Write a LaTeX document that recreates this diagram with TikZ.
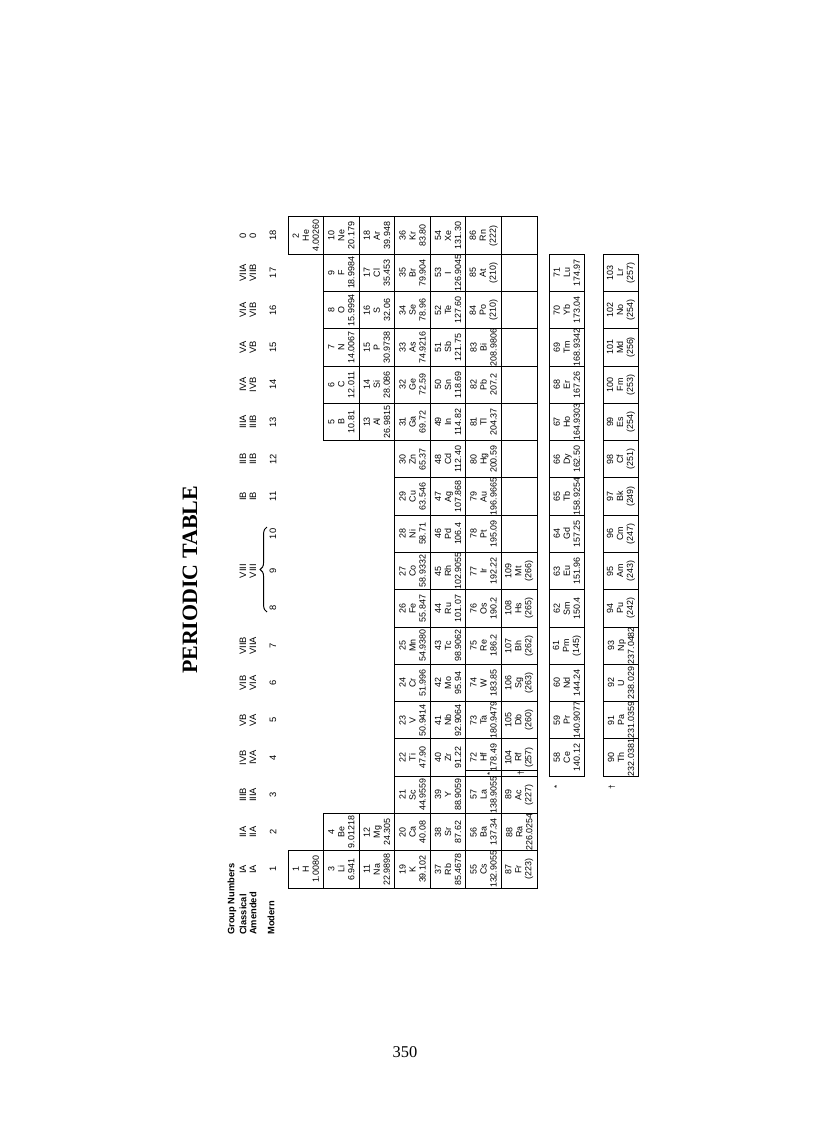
\documentclass[tikz,border=0pt]{standalone}
\usepackage{fontspec}
\setsansfont{Liberation Sans}
\setmainfont{Liberation Serif}
\usetikzlibrary{decorations.pathreplacing}
\tikzset{
  el/.style={rotate=90,align=center,inner sep=0pt,font=\sffamily\fontsize{6.5}{7.3}\selectfont},
  hdr/.style={rotate=90,inner sep=0pt,font=\sffamily\fontsize{6.8}{8}\selectfont},
  cellbox/.style={draw,line width=0.7pt},
}
\begin{document}
\begin{tikzpicture}[x=0.7296pt,y=-0.7296pt]
\useasboundingbox (0,0) rectangle (816,1123);
% title and page number
\node[rotate=90,font=\rmfamily\bfseries\fontsize{16}{18}\selectfont] (title) at (190,580) {PERIODIC TABLE};
\node[font=\rmfamily\fontsize{12}{14}\selectfont] (page) at (405,1052) {350};
% left labels
\node[hdr,anchor=west,font=\sffamily\bfseries\fontsize{6.8}{8}\selectfont] (lgn) at (232,935) {Group Numbers};
\node[hdr,anchor=west,font=\sffamily\bfseries\fontsize{6.8}{8}\selectfont] (lcl) at (243,935) {Classical};
\node[hdr,anchor=west,font=\sffamily\bfseries\fontsize{6.8}{8}\selectfont] (lam) at (253,935) {Amended};
\node[hdr,anchor=west,font=\sffamily\bfseries\fontsize{6.8}{8}\selectfont] (lmo) at (271,935) {Modern};
% group headers
\foreach \g/\c/\a in {1/IA/IA,2/IIA/IIA,3/IIIB/IIIA,4/IVB/IVA,5/VB/VA,6/VIB/VIA,7/VIIB/VIIA,9/VIII/VIII,11/IB/IB,12/IIB/IIB,13/IIIA/IIIB,14/IVA/IVB,15/VA/VB,16/VIA/VIB,17/VIIA/VIIB,18/0/0}{
  \pgfmathsetmacro\yc{888-37.28*(\g-0.5)}
  \node[hdr] (c\g) at (243,\yc) {\c};
  \node[hdr] (a\g) at (253,\yc) {\a};
}
\foreach \g in {1,...,18}{
  \pgfmathsetmacro\yc{888-37.28*(\g-0.5)}
  \node[hdr] (m\g) at (273,\yc) {\g};
}
\coordinate (b1) at (267,612);
\coordinate (b2) at (267,527);
\draw[line width=0.7pt,decorate,decoration={brace,amplitude=5pt}] (b1) -- (b2);
% elements
\foreach \p/\g/\n/\s/\m in {
1/1/1/H/1.0080,1/18/2/He/4.00260,
2/1/3/Li/6.941,2/2/4/Be/9.01218,2/13/5/B/10.81,2/14/6/C/12.011,2/15/7/N/14.0067,2/16/8/O/15.9994,2/17/9/F/18.9984,2/18/10/Ne/20.179,
3/1/11/Na/22.9898,3/2/12/Mg/24.305,3/13/13/Al/26.9815,3/14/14/Si/28.086,3/15/15/P/30.9738,3/16/16/S/32.06,3/17/17/Cl/35.453,3/18/18/Ar/39.948,
4/1/19/K/39.102,4/2/20/Ca/40.08,4/3/21/Sc/44.9559,4/4/22/Ti/47.90,4/5/23/V/50.9414,4/6/24/Cr/51.996,4/7/25/Mn/54.9380,4/8/26/Fe/55.847,4/9/27/Co/58.9332,4/10/28/Ni/58.71,4/11/29/Cu/63.546,4/12/30/Zn/65.37,4/13/31/Ga/69.72,4/14/32/Ge/72.59,4/15/33/As/74.9216,4/16/34/Se/78.96,4/17/35/Br/79.904,4/18/36/Kr/83.80,
5/1/37/Rb/85.4678,5/2/38/Sr/87.62,5/3/39/Y/88.9059,5/4/40/Zr/91.22,5/5/41/Nb/92.9064,5/6/42/Mo/95.94,5/7/43/Tc/98.9062,5/8/44/Ru/101.07,5/9/45/Rh/102.9055,5/10/46/Pd/106.4,5/11/47/Ag/107.868,5/12/48/Cd/112.40,5/13/49/In/114.82,5/14/50/Sn/118.69,5/15/51/Sb/121.75,5/16/52/Te/127.60,5/17/53/I/126.9045,5/18/54/Xe/131.30,
6/1/55/Cs/132.9055,6/2/56/Ba/137.34,6/3/57/La/138.9055,6/4/72/Hf/178.49,6/5/73/Ta/180.9479,6/6/74/W/183.85,6/7/75/Re/186.2,6/8/76/Os/190.2,6/9/77/Ir/192.22,6/10/78/Pt/195.09,6/11/79/Au/196.9665,6/12/80/Hg/200.59,6/13/81/Tl/204.37,6/14/82/Pb/207.2,6/15/83/Bi/208.9806,6/16/84/Po/(210),6/17/85/At/(210),6/18/86/Rn/(222),
7/1/87/Fr/(223),7/2/88/Ra/226.0254,7/3/89/Ac/(227),7/4/104/Rf/(257),7/5/105/Db/(260),7/6/106/Sg/(263),7/7/107/Bh/(262),7/8/108/Hs/(265),7/9/109/Mt/(266),
8.34/4/58/Ce/140.12,8.34/5/59/Pr/140.9077,8.34/6/60/Nd/144.24,8.34/7/61/Pm/(145),8.34/8/62/Sm/150.4,8.34/9/63/Eu/151.96,8.34/10/64/Gd/157.25,8.34/11/65/Tb/158.9254,8.34/12/66/Dy/162.50,8.34/13/67/Ho/164.9303,8.34/14/68/Er/167.26,8.34/15/69/Tm/168.9342,8.34/16/70/Yb/173.04,8.34/17/71/Lu/174.97,
9.86/4/90/Th/232.0381,9.86/5/91/Pa/231.0359,9.86/6/92/U/238.029,9.86/7/93/Np/237.0482,9.86/8/94/Pu/(242),9.86/9/95/Am/(243),9.86/10/96/Cm/(247),9.86/11/97/Bk/(249),9.86/12/98/Cf/(251),9.86/13/99/Es/(254),9.86/14/100/Fm/(253),9.86/15/101/Md/(256),9.86/16/102/No/(254),9.86/17/103/Lr/(257)}{
  \pgfmathsetmacro\xc{288+35.57*(\p-0.5)}
  \pgfmathsetmacro\yc{888-37.28*(\g-0.5)}
  \draw[cellbox] (\xc-17.785,\yc-18.64) rectangle (\xc+17.785,\yc+18.64);
  \node[el] (e\n) at (\xc,\yc) {\n\\\s\\\m};
}
% empty cells of period 7
\foreach \g in {10,...,18}{
  \pgfmathsetmacro\xc{288+35.57*6.5}
  \pgfmathsetmacro\yc{888-37.28*(\g-0.5)}
  \draw[cellbox] (\xc-17.785,\yc-18.64) rectangle (\xc+17.785,\yc+18.64);
}
% split line between groups 3 and 4, periods 6-7
\coordinate (s1) at (465.85,770);
\coordinate (s2) at (537,770);
\draw[cellbox] (s1) -- (s2);
\node[el,font=\sffamily\fontsize{6}{6}\selectfont] (st1) at (490,773.5) {*};
\node[el,font=\sffamily\fontsize{6}{6}\selectfont] (st2) at (521,773.5) {†};
\node[el,font=\sffamily\fontsize{6}{6}\selectfont] (st3) at (557,787) {*};
\node[el,font=\sffamily\fontsize{6}{6}\selectfont] (st4) at (612,787) {†};
\end{tikzpicture}
\end{document}
